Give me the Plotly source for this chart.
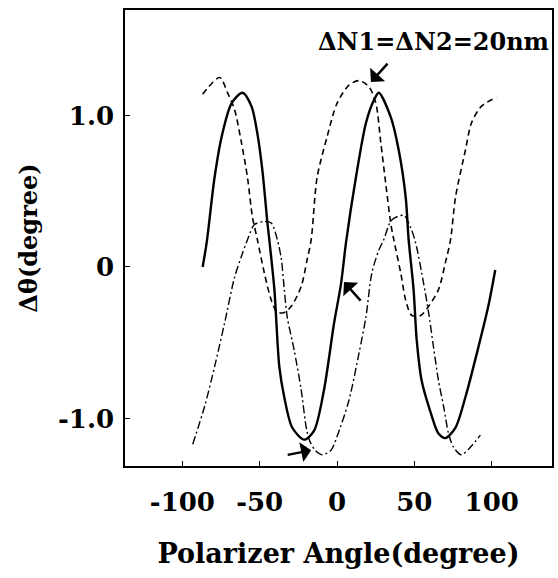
import plotly.graph_objects as go

# Solid curve
solid_x = [-86.9, -84.3, -79.2, -74.6, -68.2, -61.1, -55.3, -51.5, -48.3, -45.0, -43.8, -40.5,
           -37.3, -34.1, -29.0, -21.2, -14.8, -8.4, -1.9, 2.6, 5.8, 12.2, 18.7, 23.8, 27.0, 34.7,
           39.9, 44.4, 46.3, 49.5, 51.5, 54.7, 60.5, 65.6, 70.1, 76.6, 83.0, 91.4, 97.8, 102.3]
solid_y = [0.0, 0.16, 0.59, 0.86, 1.08, 1.15, 1.06, 0.88, 0.64, 0.29, 0.18, -0.15,
           -0.66, -0.86, -1.06, -1.14, -1.08, -0.81, -0.37, -0.11, 0.16, 0.59, 0.95, 1.10, 1.15, 0.99,
           0.77, 0.46, 0.18, -0.15, -0.48, -0.75, -0.96, -1.10, -1.13, -1.06, -0.86, -0.53, -0.26, -0.02]

# Dashed curve
dash_x = [-86.9, -75.9, -70.8, -66.3, -61.8, -57.9, -54.7, -51.5, -47.0, -42.5, -38.6, -34.1,
          -29.6, -23.2, -19.3, -16.7, -12.9, -6.4, 0.0, 7.7, 14.2, 20.6, 25.1, 28.3, 31.5, 34.7,
          36.7, 41.2, 44.4, 48.3, 54.1, 59.2, 65.6, 70.1, 73.4, 76.6, 83.0, 86.9, 93.3, 103.0]
dash_y = [1.14, 1.25, 1.15, 1.04, 0.82, 0.59, 0.33, 0.18, -0.04, -0.22, -0.30, -0.30,
          -0.26, -0.13, 0.05, 0.18, 0.59, 0.86, 1.08, 1.20, 1.23, 1.19, 1.08, 0.82, 0.55, 0.29,
          0.18, -0.04, -0.22, -0.32, -0.32, -0.26, -0.15, 0.03, 0.18, 0.46, 0.77, 0.95, 1.06, 1.12]

# Dash-dot curve
dd_x = [-93.3, -85.6, -79.2, -72.7, -66.3, -61.8, -57.9, -53.4, -47.0, -42.5, -38.6, -36.0,
        -34.1, -32.2, -27.7, -23.2, -19.9, -18.0, -14.2, -9.7, -3.9, 0.0, 7.7, 14.2, 18.7, 22.5,
        27.0, 30.2, 35.4, 43.1, 47.6, 50.8, 56.0, 59.2, 62.4, 65.6, 68.9, 72.1, 75.3, 80.4, 86.2, 92.7]
dd_y = [-1.17, -0.92, -0.66, -0.37, -0.07, 0.07, 0.18, 0.28, 0.30, 0.29, 0.18, 0.05,
        -0.15, -0.33, -0.55, -0.81, -1.06, -1.14, -1.21, -1.24, -1.21, -1.12, -0.88, -0.57, -0.33, -0.04,
        0.11, 0.18, 0.31, 0.34, 0.26, 0.16, -0.11, -0.30, -0.53, -0.75, -0.92, -1.10, -1.19, -1.24, -1.19, -1.11]

x_tick_vals = [-100, -50, 0, 50, 100]
x_tick_text = ["-100", "-50", "0", "50", "100"]
y_tick_vals = [-1.0, 0.0, 1.0]
y_tick_text = ["-1.0", "0", "1.0"]

label_text = "ΔN1=ΔN2=20nm"
x_title = "Polarizer Angle(degree)"
y_title = "Δθ(degree)"

FONT = "DejaVu Serif"

fig = go.Figure()
fig.add_trace(go.Scatter(x=solid_x, y=solid_y, mode="lines",
                         line=dict(color="black", width=2.4, shape="spline", smoothing=0.8)))
fig.add_trace(go.Scatter(x=dash_x, y=dash_y, mode="lines",
                         line=dict(color="black", width=1.6, dash="6px,4px", shape="spline", smoothing=0.8)))
fig.add_trace(go.Scatter(x=dd_x, y=dd_y, mode="lines",
                         line=dict(color="black", width=1.4, dash="8px,3px,2px,3px", shape="spline", smoothing=0.8)))

fig.add_annotation(x=0.998, xref="paper", xanchor="right", y=1.49, text="<b>" + label_text + "</b>",
                   showarrow=False, font=dict(family=FONT, size=24, color="black"))
# arrows
arrow_style = dict(text="", showarrow=True, arrowhead=1, arrowsize=1.4, arrowwidth=2.4, arrowcolor="black")
fig.add_annotation(x=21.9, y=1.22, ax=18, ay=-20, **arrow_style)
fig.add_annotation(x=4.5, y=-0.10, ax=18, ay=20, **arrow_style)
fig.add_annotation(x=-16.7, y=-1.21, ax=-25, ay=5, **arrow_style)

fig.update_layout(
    width=558, height=578,
    margin=dict(l=125, r=4, t=10, b=112),
    plot_bgcolor="white", paper_bgcolor="white",
    showlegend=False,
    font=dict(family=FONT, color="black"),
)
fig.update_xaxes(
    range=[-137.1, 139.0], showgrid=False, zeroline=False,
    showline=True, linecolor="black", linewidth=1.5, mirror=True,
    ticks="inside", ticklen=5, tickwidth=1.2, tickcolor="black",
    tickvals=x_tick_vals, ticktext=["<b>%s</b>" % t for t in x_tick_text],
    tickfont=dict(family=FONT, size=26, color="black"),
    ticklabelstandoff=12,
    title=dict(text="<b>" + x_title + "</b>", font=dict(family=FONT, size=27, color="black"), standoff=28),
)
fig.update_yaxes(
    range=[-1.314, 1.696], showgrid=False, zeroline=False,
    showline=True, linecolor="black", linewidth=1.5, mirror=True,
    ticks="inside", ticklen=5, tickwidth=1.2, tickcolor="black",
    tickvals=y_tick_vals, ticktext=["<b>%s</b>" % t for t in y_tick_text],
    tickfont=dict(family=FONT, size=26, color="black"),
    ticklabelstandoff=4,
    title=dict(text="<b>" + y_title + "</b>", font=dict(family=FONT, size=24, color="black"), standoff=14),
)

fig.write_html("out.html", config={"displayModeBar": False},
               post_script="document.body.style.margin='0';document.body.style.overflow='hidden';")
